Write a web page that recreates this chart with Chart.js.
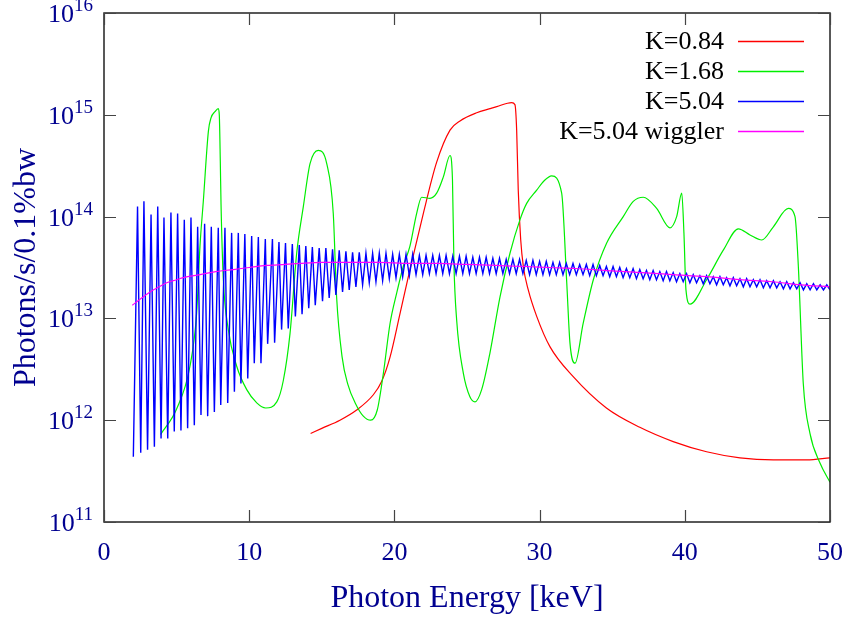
<!DOCTYPE html>
<html>
<head>
<meta charset="utf-8">
<script src="https://cdn.jsdelivr.net/npm/chart.js@4.4.1/dist/chart.umd.min.js"></script>
<style>
  body { margin: 0; background: #fff; }
  #wrap { width: 848px; height: 621px; }
</style>
</head>
<body>
<div id="wrap"><canvas id="myChart" width="848" height="621"></canvas></div>
<script>

// values: [photon energy keV, log10(photons/s/0.1%bw)]
const redK084 = [
    [14.23, 11.87], [15.0, 11.92], [16.25, 12.00], [17.4, 12.10], [18.55, 12.25],
    [19.12, 12.38], [19.7, 12.62], [20.39, 13.05], [21.07, 13.48], [21.99, 14.03],
    [22.9, 14.53], [23.83, 14.85], [24.52, 14.94], [25.67, 15.02], [26.58, 15.06],
    [27.05, 15.08], [28.08, 15.12], [28.30, 15.10], [28.42, 14.85], [28.53, 14.26],
    [28.70, 13.77], [28.88, 13.51], [29.22, 13.28], [29.8, 13.02], [30.72, 12.72],
    [32.3, 12.43], [34.6, 12.12], [36.9, 11.93], [39.2, 11.79], [41.5, 11.69],
    [43.8, 11.63], [46.1, 11.61], [48.4, 11.61], [50.0, 11.63]
]

const greenK168 = [
    [3.9, 11.86], [5.0, 12.11], [5.92, 12.53], [6.38, 13.05], [6.61, 13.71],
    [6.84, 14.15], [7.19, 14.84], [7.37, 14.97], [7.64, 15.03], [7.87, 15.06],
    [7.94, 15.00], [8.01, 14.54], [8.06, 14.12], [8.22, 13.38], [8.56, 12.89],
    [9.14, 12.53], [9.83, 12.30], [10.52, 12.17], [11.14, 12.12], [11.9, 12.18],
    [12.35, 12.39], [12.81, 12.85], [13.27, 13.64], [13.73, 14.10], [14.19, 14.52],
    [14.76, 14.65], [15.34, 14.52], [15.79, 14.03], [16.02, 13.21], [16.4, 12.62],
    [16.8, 12.35], [17.3, 12.17], [17.86, 12.04], [18.37, 12.00], [18.82, 12.10],
    [19.24, 12.46], [19.70, 12.95], [20.16, 13.25], [20.61, 13.51], [21.07, 13.71],
    [21.53, 14.03], [21.88, 14.19], [22.45, 14.18], [22.91, 14.23], [23.37, 14.39],
    [23.83, 14.60], [24.0, 14.36], [24.1, 13.54], [24.29, 12.98], [24.75, 12.46],
    [25.2, 12.23], [25.55, 12.18], [26.01, 12.30], [26.58, 12.66], [27.27, 13.21],
    [27.96, 13.64], [28.65, 13.97], [29.11, 14.13], [29.8, 14.26], [30.3, 14.35],
    [30.83, 14.40], [31.52, 14.23], [31.87, 13.35], [32.09, 12.76], [32.44, 12.56],
    [33.0, 12.95], [33.7, 13.38], [34.62, 13.74], [35.76, 14.00], [36.45, 14.15],
    [37.14, 14.19], [38.06, 14.08], [38.98, 13.89], [39.44, 14.00], [39.79, 14.23],
    [39.94, 13.84], [40.08, 13.28], [40.36, 13.14], [41.5, 13.38], [42.65, 13.67],
    [43.69, 13.88], [44.49, 13.82], [45.3, 13.77], [46.1, 13.90], [47.13, 14.08],
    [47.59, 14.00], [47.82, 13.51], [48.16, 12.36], [48.62, 11.87], [49.31, 11.58],
    [50.0, 11.39]
]

const blueK504 = [
    [2.02, 11.64], [2.31, 14.10], [2.53, 11.68], [2.75, 14.15], [3.00, 11.71],
    [3.24, 14.02], [3.47, 11.74], [3.70, 14.10], [3.93, 11.82], [4.13, 13.99],
    [4.39, 11.82], [4.61, 14.04], [4.84, 11.89], [5.07, 14.03], [5.30, 11.90],
    [5.53, 13.97], [5.76, 11.92], [5.99, 13.99], [6.22, 11.95], [6.45, 13.90],
    [6.68, 12.05], [6.93, 13.93], [7.14, 12.04], [7.39, 13.90], [7.60, 12.08],
    [7.87, 13.89], [8.04, 12.15], [8.33, 13.89], [8.52, 12.17], [8.79, 13.84],
    [8.98, 12.28], [9.25, 13.84], [9.43, 12.36], [9.70, 13.83], [9.90, 12.41],
    [10.17, 13.81], [10.35, 12.56], [10.63, 13.80], [10.81, 12.56], [11.11, 13.78],
    [11.27, 12.75], [11.60, 13.78], [11.75, 12.76], [12.05, 13.75], [12.23, 12.89],
    [12.50, 13.74], [12.69, 12.90], [12.97, 13.73], [13.18, 13.02], [13.45, 13.72],
    [13.64, 13.04], [13.90, 13.71], [14.10, 13.10], [14.35, 13.70], [14.55, 13.13],
    [14.82, 13.69], [15.05, 13.17], [15.28, 13.69], [15.51, 13.20], [15.74, 13.68],
    [15.97, 13.23], [16.20, 13.67], [16.43, 13.26], [16.66, 13.66], [16.89, 13.28],
    [17.12, 13.65], [17.35, 13.31], [17.58, 13.65], [17.81, 13.33], [18.04, 13.64],
    [18.27, 13.35], [18.50, 13.64], [18.73, 13.36], [18.96, 13.64], [19.19, 13.37],
    [19.42, 13.64], [19.65, 13.39], [19.88, 13.63], [20.11, 13.40], [20.34, 13.63],
    [20.57, 13.41], [20.80, 13.63], [21.03, 13.42], [21.26, 13.63], [21.49, 13.43],
    [21.72, 13.62], [21.95, 13.43], [22.18, 13.62], [22.41, 13.44], [22.64, 13.62],
    [22.87, 13.44], [23.10, 13.62], [23.33, 13.44], [23.56, 13.62], [23.79, 13.44],
    [24.02, 13.61], [24.25, 13.44], [24.48, 13.61], [24.71, 13.44], [24.94, 13.61],
    [25.17, 13.44], [25.40, 13.60], [25.63, 13.44], [25.86, 13.60], [26.09, 13.44],
    [26.32, 13.60], [26.55, 13.44], [26.78, 13.59], [27.01, 13.44], [27.24, 13.59],
    [27.47, 13.44], [27.70, 13.58], [27.93, 13.44], [28.16, 13.58], [28.39, 13.44],
    [28.62, 13.58], [28.85, 13.44], [29.08, 13.57], [29.31, 13.43], [29.54, 13.57],
    [29.77, 13.43], [30.00, 13.56], [30.23, 13.43], [30.46, 13.56], [30.69, 13.43],
    [30.92, 13.55], [31.15, 13.43], [31.38, 13.55], [31.61, 13.43], [31.84, 13.54],
    [32.07, 13.43], [32.30, 13.54], [32.53, 13.43], [32.76, 13.53], [32.99, 13.43],
    [33.22, 13.53], [33.45, 13.42], [33.68, 13.53], [33.91, 13.42], [34.14, 13.52],
    [34.37, 13.42], [34.60, 13.51], [34.83, 13.41], [35.06, 13.51], [35.29, 13.41],
    [35.52, 13.50], [35.75, 13.40], [35.98, 13.49], [36.21, 13.40], [36.44, 13.49],
    [36.67, 13.39], [36.90, 13.48], [37.13, 13.39], [37.36, 13.47], [37.59, 13.38],
    [37.82, 13.47], [38.05, 13.38], [38.28, 13.46], [38.51, 13.37], [38.74, 13.46],
    [38.97, 13.37], [39.20, 13.45], [39.43, 13.36], [39.66, 13.44], [39.89, 13.36],
    [40.12, 13.44], [40.35, 13.35], [40.58, 13.43], [40.81, 13.35], [41.04, 13.42],
    [41.27, 13.34], [41.50, 13.42], [41.73, 13.34], [41.96, 13.41], [42.19, 13.33],
    [42.42, 13.41], [42.65, 13.33], [42.88, 13.40], [43.11, 13.32], [43.34, 13.40],
    [43.57, 13.32], [43.80, 13.39], [44.03, 13.31], [44.26, 13.39], [44.49, 13.31],
    [44.72, 13.38], [44.95, 13.31], [45.18, 13.38], [45.41, 13.30], [45.64, 13.37],
    [45.87, 13.30], [46.10, 13.37], [46.33, 13.30], [46.56, 13.36], [46.79, 13.29],
    [47.02, 13.36], [47.25, 13.29], [47.48, 13.35], [47.71, 13.29], [47.94, 13.35],
    [48.17, 13.28], [48.40, 13.34], [48.63, 13.28], [48.86, 13.34], [49.09, 13.28],
    [49.32, 13.33], [49.55, 13.28], [49.78, 13.33], [50.0, 13.28]
]

const wigglerK504 = [
    [1.95, 13.13], [2.5, 13.19], [3.17, 13.26], [3.8, 13.31], [4.32, 13.35],
    [5.0, 13.38], [5.46, 13.40], [6.61, 13.43], [7.7, 13.46], [8.9, 13.48],
    [10.0, 13.50], [11.2, 13.52], [12.5, 13.53], [13.5, 13.54], [15.0, 13.55],
    [17.0, 13.55], [19.0, 13.55], [21.0, 13.54], [23.0, 13.54], [25.0, 13.53],
    [27.0, 13.52], [29.0, 13.51], [30.7, 13.50], [32.5, 13.49], [34.6, 13.47],
    [37.0, 13.45], [39.2, 13.43], [41.5, 13.41], [43.8, 13.38], [46.0, 13.36],
    [48.0, 13.33], [50.0, 13.31]
]

const seriesLabels = ['K=0.84', 'K=1.68', 'K=5.04', 'K=5.04 wiggler']
const seriesColors = ['#ff0000', '#00ee00', '#0000ff', '#ff00ff']
const xTicks = [0, 10, 20, 30, 40, 50]
const yDecades = [11, 12, 13, 14, 15, 16]

const FONT = '"Liberation Serif", "Times New Roman", serif'
const AXIS_COLOR = '#000090'

function toPoints(arr) {
    return arr.map(p => ({ x: p[0], y: Math.pow(10, p[1]) }))
}

const allSeries = [redK084, greenK168, blueK504, wigglerK504]
const drawOrder = [3, 2, 1, 0]

const datasets = allSeries.map((s, i) => ({
    label: seriesLabels[i],
    data: toPoints(s),
    borderColor: seriesColors[i],
    backgroundColor: seriesColors[i],
    borderWidth: i == 2 ? 1.4 : 1.2,
    pointRadius: 0,
    cubicInterpolationMode: i == 2 ? 'default' : 'monotone',
    tension: 0,
    fill: false,
    order: drawOrder[i],
}))

// gnuplot look: frame, inward ticks, 10^n labels, legend with line after text
const framePlugin = {
    id: 'frame',
    afterDraw(chart) {
        const ctx = chart.ctx
        const a = chart.chartArea
        const xs = chart.scales.x
        const ys = chart.scales.y
        ctx.save()
        ctx.strokeStyle = '#222'
        ctx.lineWidth = 1.5
        ctx.strokeRect(a.left, a.top, a.right - a.left, a.bottom - a.top)

        ctx.strokeStyle = '#444'
        ctx.lineWidth = 1.2
        ctx.beginPath()
        xTicks.forEach(v => {
            const px = Math.round(xs.getPixelForValue(v)) + 0.5
            ctx.moveTo(px, a.bottom); ctx.lineTo(px, a.bottom - 12)
            ctx.moveTo(px, a.top); ctx.lineTo(px, a.top + 12)
        })
        yDecades.forEach(d => {
            const py = Math.round(ys.getPixelForValue(Math.pow(10, d))) + 0.5
            ctx.moveTo(a.left, py); ctx.lineTo(a.left + 12, py)
            ctx.moveTo(a.right, py); ctx.lineTo(a.right - 12, py)
        })
        ctx.stroke()

        // y labels as 10 with a raised exponent
        ctx.fillStyle = AXIS_COLOR
        ctx.textBaseline = 'alphabetic'
        yDecades.forEach(d => {
            const py = ys.getPixelForValue(Math.pow(10, d))
            ctx.font = '19px ' + FONT
            const ew = ctx.measureText(String(d)).width
            const right = a.left - 11
            ctx.textAlign = 'right'
            ctx.fillText(String(d), right, py - 2)
            ctx.font = '26px ' + FONT
            ctx.fillText('10', right - ew, py + 9)
        })

        // legend
        ctx.font = '26px ' + FONT
        ctx.textAlign = 'right'
        ctx.textBaseline = 'middle'
        seriesLabels.forEach((lab, i) => {
            const y = 41 + i * 30
            ctx.fillStyle = '#000'
            ctx.fillText(lab, 724, y + 1)
            ctx.strokeStyle = seriesColors[i]
            ctx.lineWidth = 1.3
            ctx.beginPath()
            ctx.moveTo(738, y + 0.5); ctx.lineTo(804, y + 0.5)
            ctx.stroke()
        })
        ctx.restore()
    }
}

const config = {
    type: 'line',
    data: { datasets: datasets },
    options: {
        responsive: false,
        animation: false,
        parsing: false,
        layout: { padding: { top: 13, right: 18, left: 0, bottom: 0 } },
        plugins: {
            legend: { display: false },
            tooltip: { enabled: false },
        },
        scales: {
            x: {
                type: 'linear',
                min: 0,
                max: 50,
                afterBuildTicks: s => { s.ticks = xTicks.map(v => ({ value: v })) },
                afterFit: s => { s.height = 99; s.paddingLeft = 0; s.paddingRight = 0 },
                ticks: { font: { family: FONT, size: 26 }, color: AXIS_COLOR, padding: 16, maxRotation: 0 },
                grid: { display: false, drawTicks: false },
                border: { display: false },
                title: {
                    display: true,
                    text: 'Photon Energy [keV]',
                    font: { family: FONT, size: 32 },
                    color: AXIS_COLOR,
                    padding: { top: 0, bottom: 3 },
                },
            },
            y: {
                type: 'logarithmic',
                min: 1e11,
                max: 1e16,
                afterBuildTicks: s => { s.ticks = yDecades.map(d => ({ value: Math.pow(10, d) })) },
                afterFit: s => { s.width = 104; s.paddingTop = 0; s.paddingBottom = 0 },
                ticks: { display: false },
                grid: { display: false, drawTicks: false },
                border: { display: false },
                title: {
                    display: true,
                    text: 'Photons/s/0.1%bw',
                    font: { family: FONT, size: 32 },
                    color: AXIS_COLOR,
                    padding: { top: 7, bottom: 0 },
                },
            },
        },
    },
    plugins: [framePlugin],
}

let myChart = new Chart(document.getElementById('myChart'), config)

</script>
</body>
</html>
